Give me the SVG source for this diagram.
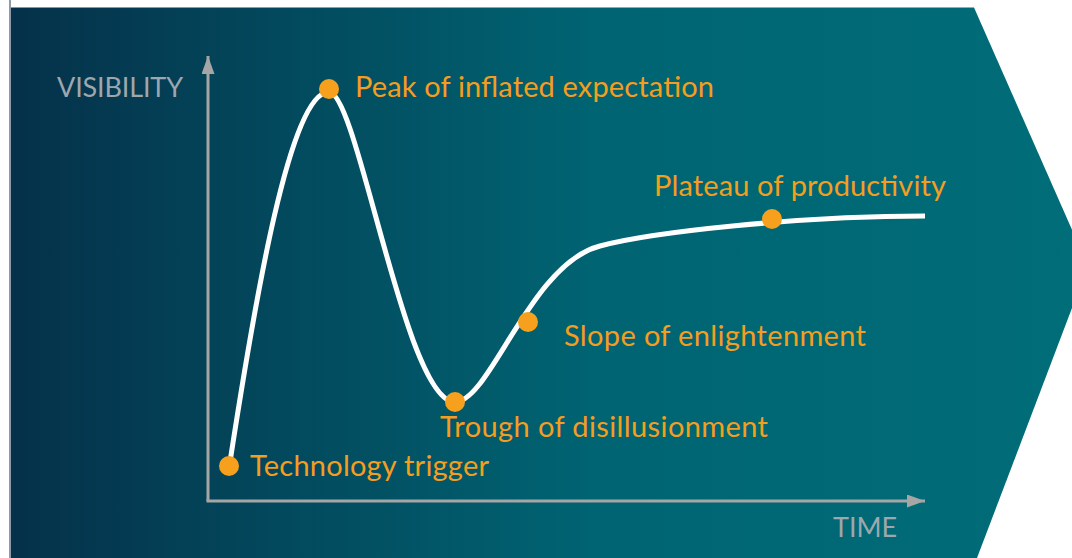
<svg xmlns="http://www.w3.org/2000/svg" width="1072" height="558" viewBox="0 0 1072 558">
<defs>
<linearGradient id="bg" x1="11" y1="0" x2="1072" y2="0" gradientUnits="userSpaceOnUse">
<stop offset="0" stop-color="#05314a"/>
<stop offset="0.55" stop-color="#006472"/>
<stop offset="1" stop-color="#006d78"/>
</linearGradient>
<marker id="arr" viewBox="0 0 18 13" refX="18" refY="6.5" markerWidth="18" markerHeight="13" markerUnits="userSpaceOnUse" orient="auto">
<path d="M0,0 L18,6.5 L0,13 Z" fill="#a6a6a6"/>
</marker>
<style>
.lbl{font-family:Lato,"Open Sans","Liberation Sans",sans-serif;font-size:29px;fill:#f59d1e}
.ax{font-family:Lato,"Open Sans","Liberation Sans",sans-serif;font-size:27px;fill:#9ea7ad}
.dot{fill:#f7a01e}
.axis{stroke:#a6a6a6;stroke-width:3;fill:none}
</style>
</defs>
<rect width="1072" height="558" fill="#ffffff"/>
<polygon points="11,7.5 974,7.5 1088,266 977,558 11,558" fill="url(#bg)"/>
<line x1="10" y1="0" x2="10" y2="558" stroke="#8c9aaa" stroke-width="2"/>
<g id="axes">
<line class="axis" x1="208" y1="501" x2="208" y2="56" marker-end="url(#arr)"/>
<line class="axis" x1="206.5" y1="501" x2="925" y2="501" marker-end="url(#arr)"/>
<text class="ax" x="57" y="97" textLength="126">VISIBILITY</text>
<text class="ax" x="833" y="537" textLength="64">TIME</text>
</g>
<g id="connectors">
<path d="M230,462 C255,300 290,92 329,92 C358,92 405,402 455,402 C490,402 530,264 600,246 C652,232 800,216 925,216" fill="none" stroke="#ffffff" stroke-width="5"/>
</g>
<g id="trigger"><circle class="dot" cx="229" cy="466" r="10"/><text class="lbl" x="250" y="476" textLength="239">Technology trigger</text></g>
<g id="peak"><circle class="dot" cx="329" cy="89" r="10"/><text class="lbl" x="355" y="97" textLength="359">Peak of inflated expectation</text></g>
<g id="trough"><circle class="dot" cx="455" cy="402" r="10"/><text class="lbl" x="440" y="437" textLength="328">Trough of disillusionment</text></g>
<g id="slope"><circle class="dot" cx="528" cy="322" r="10"/><text class="lbl" x="564" y="346" textLength="302">Slope of enlightenment</text></g>
<g id="plateau"><circle class="dot" cx="772" cy="219" r="10"/><text class="lbl" x="654" y="196" textLength="292">Plateau of productivity</text></g>
</svg>
